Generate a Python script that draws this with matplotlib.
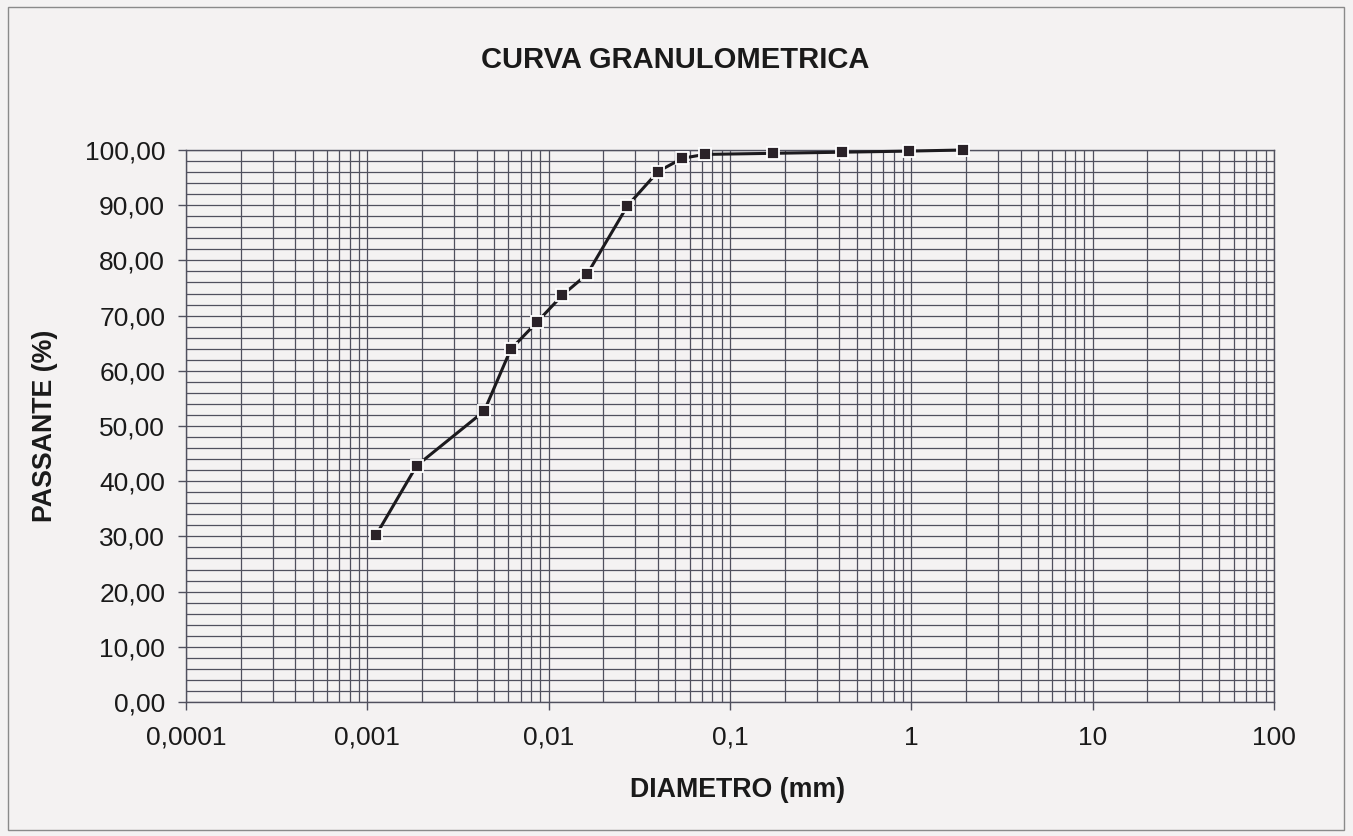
import matplotlib
matplotlib.use("Agg")
import matplotlib.pyplot as plt
import matplotlib.ticker as mticker
from matplotlib.patches import Rectangle

# grain size distribution
diametro_mm = [0.00112, 0.00187, 0.00441, 0.00618, 0.00867, 0.0119, 0.0163,
               0.0272, 0.0401, 0.0546, 0.0725, 0.173, 0.412, 0.965, 1.93]
passante = [30.3, 42.8, 52.7, 63.9, 68.9, 73.7, 77.5,
            89.9, 96.1, 98.5, 99.2, 99.4, 99.6, 99.8, 100.0]

x_ticks = [0.0001, 0.001, 0.01, 0.1, 1, 10, 100]
x_ticklabels = ["0,0001", "0,001", "0,01", "0,1", "1", "10", "100"]

TITLE = "CURVA GRANULOMETRICA"
LABEL_X = "DIAMETRO (mm)"
LABEL_Y = "PASSANTE (%)"

BG = "#f4f2f2"
GRID = "#50505e"
INK = "#1a1a1a"

plt.rcParams["font.family"] = ["Liberation Sans", "DejaVu Sans"]

fig = plt.figure(figsize=(13.53, 8.36), dpi=100, facecolor=BG)
ax = fig.add_axes([186 / 1353, 1 - 702 / 836, 1088 / 1353, 552 / 836])
ax.set_facecolor(BG)

# page frame
fig.patches.append(Rectangle((8 / 1353, 6 / 836), 1336 / 1353, 823 / 836,
                             transform=fig.transFigure, fill=False,
                             edgecolor="#8a8a8a", lw=1.0))

ax.set_xscale("log")
ax.set_xlim(1e-4, 100)
ax.set_ylim(0, 100)

ax.xaxis.set_major_locator(mticker.FixedLocator(x_ticks))
ax.xaxis.set_major_formatter(mticker.FixedFormatter(x_ticklabels))
ax.xaxis.set_minor_locator(mticker.LogLocator(base=10, subs=range(2, 10), numticks=20))
ax.xaxis.set_minor_formatter(mticker.NullFormatter())

ax.yaxis.set_major_locator(mticker.MultipleLocator(10))
ax.yaxis.set_minor_locator(mticker.MultipleLocator(2))
ax.yaxis.set_major_formatter(mticker.FuncFormatter(lambda v, p: f"{v:.2f}".replace(".", ",")))

ax.grid(True, which="both", color=GRID, lw=0.9)
ax.set_axisbelow(True)
for s in ax.spines.values():
    s.set_color(GRID)
    s.set_linewidth(1.0)

ax.tick_params(which="major", length=6, width=1.0, color=GRID, labelsize=19, labelcolor=INK)
ax.tick_params(which="minor", length=0)
ax.tick_params(axis="x", which="major", pad=11)
ax.tick_params(axis="y", which="major", pad=9)

ax.plot(diametro_mm, passante, color="#1c1a1e", lw=2.2, marker="s", ms=8.5,
        mfc="#2a2228", mec="white", mew=1.3, clip_on=False, zorder=5)

fig.text(675.5 / 1353, 1 - 60 / 836, TITLE, ha="center", va="center",
         fontsize=21, fontweight="bold", color=INK)
fig.text(738 / 1353, 1 - 790 / 836, LABEL_X, ha="center", va="center",
         fontsize=19.3, fontweight="bold", color=INK)
fig.text(45 / 1353, 1 - 426 / 836, LABEL_Y, ha="center", va="center",
         rotation=90, fontsize=19.3, fontweight="bold", color=INK)

fig.savefig("out.png", dpi=100, facecolor=BG)
